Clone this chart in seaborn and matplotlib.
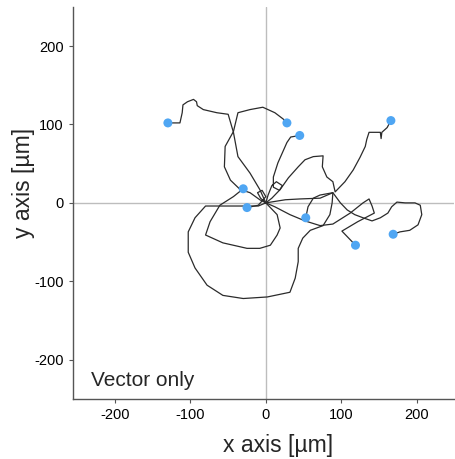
import matplotlib
matplotlib.use("Agg")
import matplotlib.pyplot as plt
import seaborn as sns
import pandas as pd

# Cell tracks (µm), each starts at the origin and ends at the blue dot
track1_x = [0, -8, -21, -37, -43, -50, -65, -83, -91, -92, -96, -104, -110, -111, -114, -130]
track1_y = [0, 17, 38, 59, 90, 113, 115, 119, 124, 129, 132, 129, 125, 115, 102, 102]

track2_x = [0, -8, -21, -34, -47, -55, -54, -43, -37, -21, -4, 12, 23, 28]
track2_y = [0, 4, 13, 17, 29, 46, 72, 91, 115, 119, 122, 115, 107, 102]

track3_x = [0, 3, 8, 14, 22, 18, 10, 10, 16, 22, 28, 33, 45]
track3_y = [0, 10, 22, 27, 22, 16, 20, 33, 51, 64, 77, 84, 86]

track4_x = [0, 8, 19, 30, 43, 52, 63, 76, 75, 81, 89, 92, 105, 116, 125, 132, 134, 137, 152, 153, 154, 161, 166]
track4_y = [0, 6, 17, 32, 46, 55, 59, 60, 46, 33, 27, 14, 27, 42, 58, 72, 81, 90, 90, 82, 90, 96, 105]

track5_x = [0, 3, 15, 19, 15, 6, -8, -25, -57, -80, -74, -61, -43, -30]
track5_y = [0, -3, -15, -32, -41, -54, -58, -58, -51, -41, -24, -3, 8, 18]

track6_x = [0, -7, -11, -5, 0, -10, -25]
track6_y = [0, 6, 13, 16, 8, -3, -6]

track7_x = [0, -10, -25, -80, -94, -103, -103, -94, -78, -57, -30, 2, 32, 39, 43, 43, 49, 59, 76, 85, 88, 89, 72, 63, 56, 53]
track7_y = [0, -4, -4, -4, -19, -37, -63, -83, -105, -118, -122, -120, -114, -96, -75, -58, -45, -35, -29, -15, 0, 13, 10, 6, -5, -19]

track8_x = [0, 12, 32, 52, 72, 89, 112, 129, 137, 141, 144, 122, 101, 110, 119]
track8_y = [0, -5, -15, -23, -29, -27, -13, 0, 5, -4, -13, -24, -36, -45, -54]

track9_x = [0, 26, 45, 72, 89, 99, 108, 118, 129, 141, 152, 162, 167, 174, 185, 198, 205, 207, 202, 191, 178, 169]
track9_y = [0, 4, 5, 6, 13, 0, -9, -15, -19, -23, -19, -13, -5, 1, 0, 0, -3, -15, -28, -35, -37, -40]

tracks_x = [track1_x, track2_x, track3_x, track4_x, track5_x, track6_x, track7_x, track8_x, track9_x]
tracks_y = [track1_y, track2_y, track3_y, track4_y, track5_y, track6_y, track7_y, track8_y, track9_y]

tick_values = [-200, -100, 0, 100, 200]

rows = []
for i, (xs, ys) in enumerate(zip(tracks_x, tracks_y)):
    for j, (xv, yv) in enumerate(zip(xs, ys)):
        rows.append({"track": i, "step": j, "x": xv, "y": yv})
df = pd.DataFrame(rows)
ends = df.sort_values("step").groupby("track").tail(1)

sns.set_style("white")
plt.rcParams["font.family"] = ["Liberation Sans", "DejaVu Sans"]
plt.rcParams["axes.unicode_minus"] = False

fig = plt.figure(figsize=(4.56, 4.59), dpi=100)
ax = fig.add_axes([0.160, 0.131, 0.836, 0.854])

ax.axhline(0, color="#bdbdbd", lw=1.0, zorder=0)
ax.axvline(0, color="#bdbdbd", lw=1.0, zorder=0)

sns.lineplot(data=df, x="x", y="y", units="track", estimator=None, sort=False,
             color="#2b2b2b", lw=0.9, ax=ax, legend=False)
sns.scatterplot(data=ends, x="x", y="y", color="#4fa6f3", s=42, edgecolor="none",
                ax=ax, zorder=5, legend=False)

ax.set_xlim(-256, 250)
ax.set_ylim(-250, 250)
ax.set_xticks(tick_values)
ax.set_yticks(tick_values)
ax.set_xticklabels([str(v) for v in tick_values])
ax.set_yticklabels([str(v) for v in tick_values])
ax.tick_params(axis="both", labelsize=10.5, length=3, width=0.8, color="#555555",
               labelcolor="black", direction="out", bottom=True, left=True)

for side in ["top", "right"]:
    ax.spines[side].set_visible(False)
for side in ["left", "bottom"]:
    ax.spines[side].set_color("#555555")
    ax.spines[side].set_linewidth(1.0)

ax.set_xlabel("x axis [µm]", fontsize=16.5)
ax.set_ylabel("y axis [µm]", fontsize=16.5)
ax.xaxis.set_label_coords(0.538, -0.09)
ax.yaxis.set_label_coords(-0.10, 0.55)

ax.text(-232, -226, "Vector only", fontsize=15, ha="left", va="center")

fig.savefig("out.png", dpi=100)
